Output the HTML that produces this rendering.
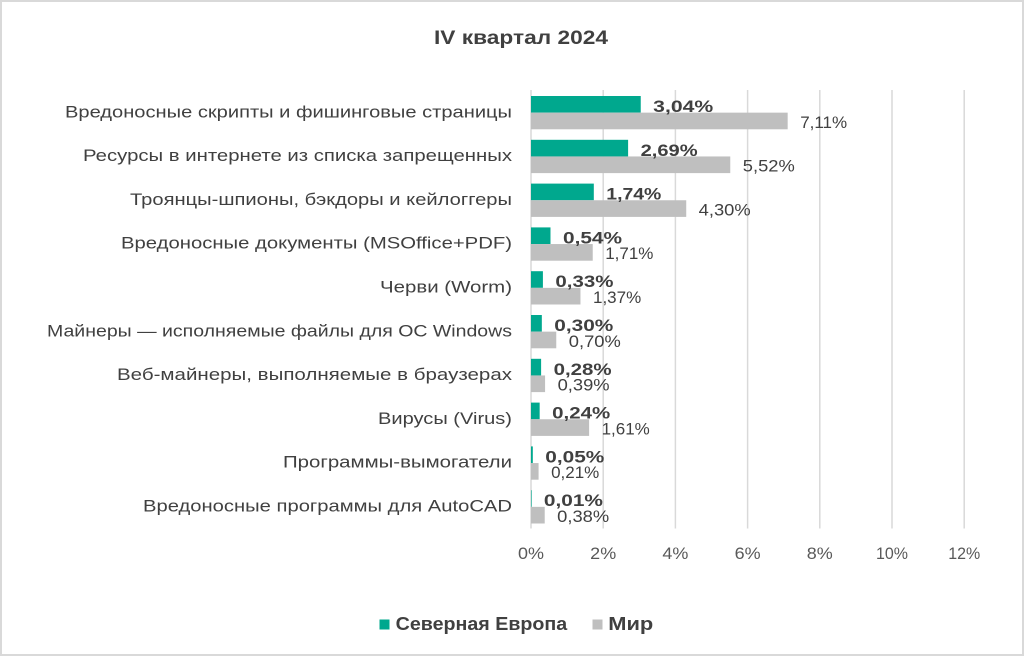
<!DOCTYPE html>
<html><head><meta charset="utf-8"><style>
html,body{margin:0;padding:0;background:#fff;}
svg{display:block;}
text{font-family:"Liberation Sans","DejaVu Sans",sans-serif;}
</style></head><body>
<svg width="1024" height="656" viewBox="0 0 1024 656" xmlns="http://www.w3.org/2000/svg">
<rect x="0" y="0" width="1024" height="656" fill="#fff"/>
<rect x="1" y="1" width="1022" height="654" fill="none" stroke="#d9d9d9" stroke-width="2"/>

<text x="521" y="44" text-anchor="middle" font-size="19" font-weight="bold" fill="#404040" textLength="174" lengthAdjust="spacingAndGlyphs">IV квартал 2024</text>

<g stroke="#d9d9d9" stroke-width="1.5">
<line x1="531" y1="90" x2="531" y2="528.5"/>
<line x1="603.2" y1="90" x2="603.2" y2="528.5"/>
<line x1="675.4" y1="90" x2="675.4" y2="528.5"/>
<line x1="747.6" y1="90" x2="747.6" y2="528.5"/>
<line x1="819.8" y1="90" x2="819.8" y2="528.5"/>
<line x1="892" y1="90" x2="892" y2="528.5"/>
<line x1="964.2" y1="90" x2="964.2" y2="528.5"/>
</g>

<g fill="#00a88e">
<rect x="531" y="96" width="109.74" height="16.65"/>
<rect x="531" y="139.8" width="97.11" height="16.65"/>
<rect x="531" y="183.6" width="62.81" height="16.65"/>
<rect x="531" y="227.4" width="19.49" height="16.65"/>
<rect x="531" y="271.2" width="11.91" height="16.65"/>
<rect x="531" y="315" width="10.83" height="16.65"/>
<rect x="531" y="358.8" width="10.11" height="16.65"/>
<rect x="531" y="402.6" width="8.66" height="16.65"/>
<rect x="531" y="446.4" width="1.81" height="16.65"/>
<rect x="531" y="490.2" width="0.6" height="16.65"/>
</g>
<g fill="#bfbfbf">
<rect x="531" y="112.65" width="256.67" height="16.65"/>
<rect x="531" y="156.45" width="199.27" height="16.65"/>
<rect x="531" y="200.25" width="155.23" height="16.65"/>
<rect x="531" y="244.05" width="61.73" height="16.65"/>
<rect x="531" y="287.85" width="49.46" height="16.65"/>
<rect x="531" y="331.65" width="25.27" height="16.65"/>
<rect x="531" y="375.45" width="14.08" height="16.65"/>
<rect x="531" y="419.25" width="58.12" height="16.65"/>
<rect x="531" y="463.05" width="7.58" height="16.65"/>
<rect x="531" y="506.85" width="13.72" height="16.65"/>
</g>

<g font-size="17" fill="#404040" text-anchor="end">
<text x="512" y="117.3" textLength="447" lengthAdjust="spacingAndGlyphs">Вредоносные скрипты и фишинговые страницы</text>
<text x="512" y="161.1" textLength="429" lengthAdjust="spacingAndGlyphs">Ресурсы в интернете из списка запрещенных</text>
<text x="512" y="204.9" textLength="382" lengthAdjust="spacingAndGlyphs">Троянцы-шпионы, бэкдоры и кейлоггеры</text>
<text x="512" y="248.7" textLength="391" lengthAdjust="spacingAndGlyphs">Вредоносные документы (MSOffice+PDF)</text>
<text x="512" y="292.5" textLength="132" lengthAdjust="spacingAndGlyphs">Черви (Worm)</text>
<text x="512" y="336.3" textLength="465" lengthAdjust="spacingAndGlyphs">Майнеры — исполняемые файлы для ОС Windows</text>
<text x="512" y="380.1" textLength="395" lengthAdjust="spacingAndGlyphs">Веб-майнеры, выполняемые в браузерах</text>
<text x="512" y="423.9" textLength="134" lengthAdjust="spacingAndGlyphs">Вирусы (Virus)</text>
<text x="512" y="467.7" textLength="229" lengthAdjust="spacingAndGlyphs">Программы-вымогатели</text>
<text x="512" y="511.5" textLength="369" lengthAdjust="spacingAndGlyphs">Вредоносные программы для AutoCAD</text>
</g>

<g font-size="17" font-weight="bold" fill="#404040">
<text x="653.2" y="112" textLength="60" lengthAdjust="spacingAndGlyphs">3,04%</text>
<text x="640.6" y="155.8" textLength="57" lengthAdjust="spacingAndGlyphs">2,69%</text>
<text x="606.3" y="199.6" textLength="55" lengthAdjust="spacingAndGlyphs">1,74%</text>
<text x="563" y="243.4" textLength="59" lengthAdjust="spacingAndGlyphs">0,54%</text>
<text x="555.4" y="287.2" textLength="58" lengthAdjust="spacingAndGlyphs">0,33%</text>
<text x="554.3" y="331" textLength="59" lengthAdjust="spacingAndGlyphs">0,30%</text>
<text x="553.6" y="374.8" textLength="58" lengthAdjust="spacingAndGlyphs">0,28%</text>
<text x="552.2" y="418.6" textLength="58" lengthAdjust="spacingAndGlyphs">0,24%</text>
<text x="545.3" y="462.4" textLength="59" lengthAdjust="spacingAndGlyphs">0,05%</text>
<text x="543.9" y="506.2" textLength="59" lengthAdjust="spacingAndGlyphs">0,01%</text>
</g>
<g font-size="17" fill="#404040">
<text x="800.2" y="127.8">7,11%</text>
<text x="742.8" y="171.6" textLength="52" lengthAdjust="spacingAndGlyphs">5,52%</text>
<text x="698.7" y="215.4" textLength="52" lengthAdjust="spacingAndGlyphs">4,30%</text>
<text x="605.2" y="259.2">1,71%</text>
<text x="593" y="303">1,37%</text>
<text x="568.8" y="346.8" textLength="52" lengthAdjust="spacingAndGlyphs">0,70%</text>
<text x="557.6" y="390.6" textLength="52" lengthAdjust="spacingAndGlyphs">0,39%</text>
<text x="601.6" y="434.4">1,61%</text>
<text x="551.1" y="478.2">0,21%</text>
<text x="557.2" y="522" textLength="52" lengthAdjust="spacingAndGlyphs">0,38%</text>
</g>

<g font-size="17" fill="#595959" text-anchor="middle">
<text x="531" y="559" textLength="26" lengthAdjust="spacingAndGlyphs">0%</text>
<text x="603.2" y="559" textLength="26" lengthAdjust="spacingAndGlyphs">2%</text>
<text x="675.4" y="559" textLength="26" lengthAdjust="spacingAndGlyphs">4%</text>
<text x="747.6" y="559" textLength="26" lengthAdjust="spacingAndGlyphs">6%</text>
<text x="819.8" y="559" textLength="26" lengthAdjust="spacingAndGlyphs">8%</text>
<text x="892" y="559" textLength="32" lengthAdjust="spacingAndGlyphs">10%</text>
<text x="964.2" y="559" textLength="32" lengthAdjust="spacingAndGlyphs">12%</text>
</g>

<rect x="379.5" y="619.5" width="10" height="10" fill="#00a88e"/>
<text x="395.7" y="630" font-size="18" font-weight="bold" fill="#404040" textLength="171.5" lengthAdjust="spacingAndGlyphs">Северная Европа</text>
<rect x="592.5" y="619.5" width="10" height="10" fill="#bfbfbf"/>
<text x="608.3" y="630" font-size="18" font-weight="bold" fill="#404040" textLength="45" lengthAdjust="spacingAndGlyphs">Мир</text>
</svg>
</body></html>
